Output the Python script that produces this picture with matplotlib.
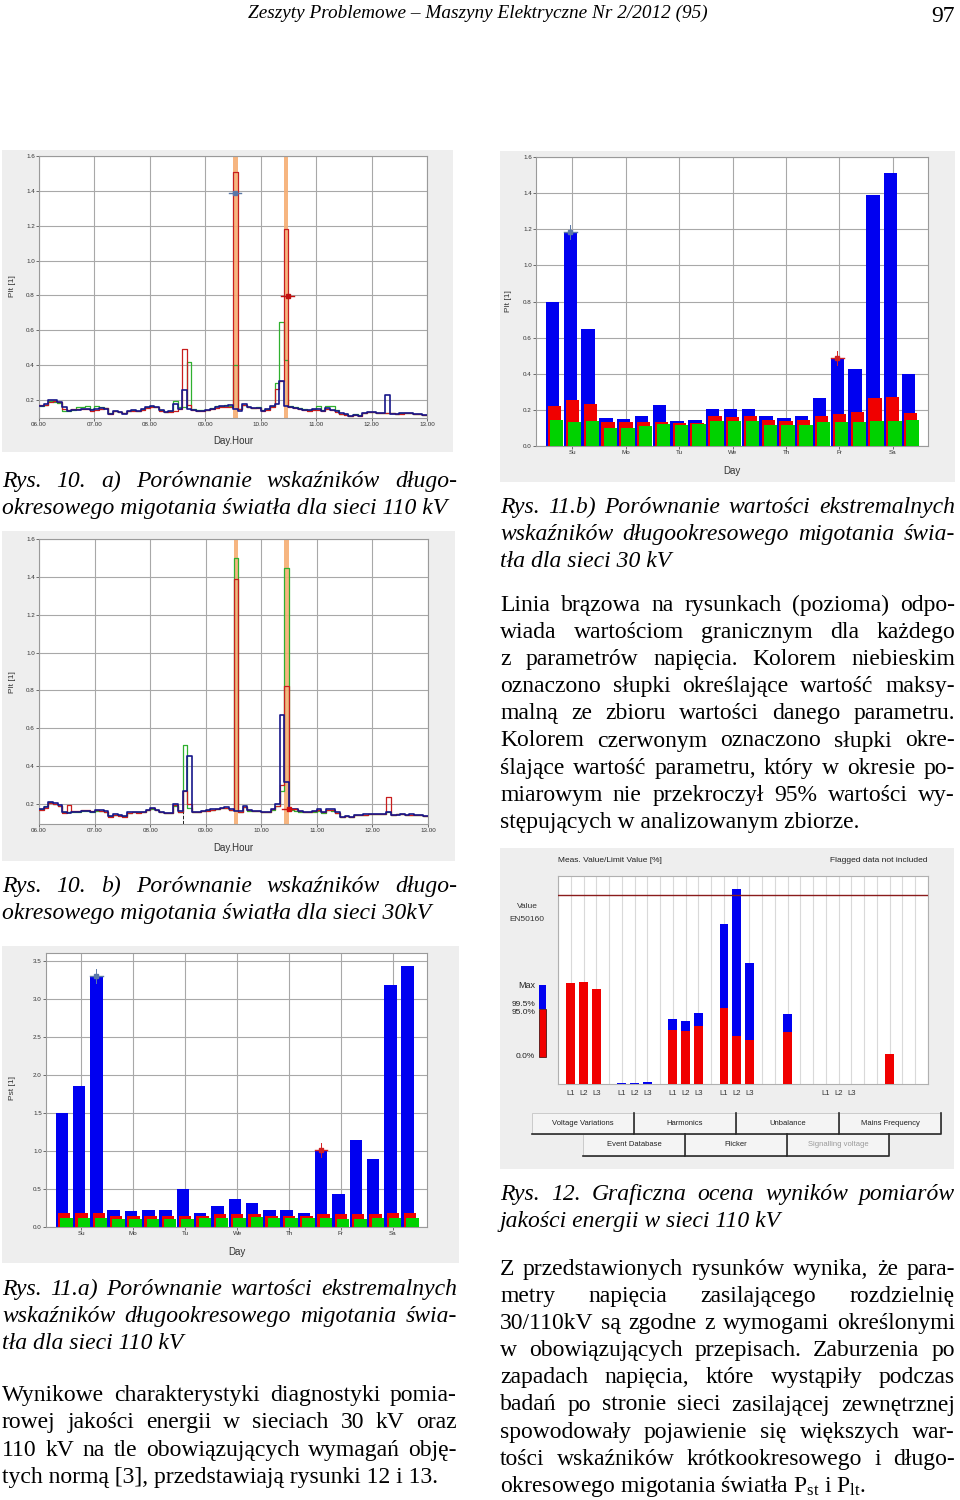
# -*- coding: utf-8 -*-
import numpy as np
import matplotlib
matplotlib.use('Agg')
import matplotlib.pyplot as plt
import matplotlib.transforms as mtrans
from matplotlib.patches import Rectangle
from matplotlib.lines import Line2D

plt.rcParams['mathtext.fontset'] = 'custom'
plt.rcParams['mathtext.rm'] = 'Liberation Serif'
plt.rcParams['mathtext.it'] = 'Liberation Serif:italic'

# ---------------- dane ----------------
hour_labels = ['06.00', '07.00', '08.00', '09.00', '10.00', '11.00', '12.00', '13.00']
day_labels = ['Su', 'Mo', 'Tu', 'We', 'Th', 'Fr', 'Sa']

# rys. 10a - Plt co 5 min od 06:00 (110 kV), wiersz = jedna godzina
plt10a_blue = [0.165, 0.175, 0.20, 0.20, 0.19, 0.16, 0.14, 0.145, 0.145, 0.15, 0.15, 0.145,
               0.15, 0.155, 0.15, 0.12, 0.14, 0.13, 0.12, 0.14, 0.145, 0.14, 0.15, 0.16,
               0.165, 0.16, 0.145, 0.13, 0.135, 0.175, 0.15, 0.255, 0.15, 0.145, 0.14, 0.14,
               0.145, 0.15, 0.16, 0.165, 0.165, 0.17, 0.15, 0.14, 0.18, 0.16, 0.155, 0.155,
               0.14, 0.15, 0.165, 0.18, 0.31, 0.165, 0.16, 0.155, 0.15, 0.145, 0.145, 0.15,
               0.15, 0.14, 0.155, 0.145, 0.135, 0.125, 0.12, 0.11, 0.115, 0.11, 0.125, 0.13,
               0.13, 0.125, 0.125, 0.23, 0.12, 0.12, 0.125, 0.125, 0.125, 0.12, 0.12, 0.115]
plt10a_red = [0.17, 0.17, 0.19, 0.195, 0.19, 0.15, 0.145, 0.15, 0.15, 0.15, 0.15, 0.14,
              0.145, 0.15, 0.155, 0.12, 0.135, 0.13, 0.125, 0.135, 0.14, 0.135, 0.145, 0.155,
              0.16, 0.16, 0.14, 0.13, 0.13, 0.135, 0.15, 0.49, 0.17, 0.145, 0.14, 0.14,
              0.145, 0.15, 0.155, 0.16, 0.16, 0.16, 1.51, 0.15, 0.17, 0.16, 0.155, 0.155,
              0.14, 0.145, 0.16, 0.265, 0.31, 1.18, 0.16, 0.155, 0.15, 0.145, 0.14, 0.145,
              0.145, 0.14, 0.15, 0.145, 0.13, 0.12, 0.115, 0.11, 0.115, 0.11, 0.125, 0.13,
              0.13, 0.125, 0.125, 0.125, 0.125, 0.12, 0.12, 0.125, 0.125, 0.12, 0.12, 0.115]
plt10a_green = [0.165, 0.17, 0.195, 0.19, 0.185, 0.14, 0.14, 0.145, 0.16, 0.16, 0.165, 0.15,
                0.165, 0.16, 0.155, 0.125, 0.14, 0.13, 0.125, 0.14, 0.145, 0.14, 0.15, 0.16,
                0.165, 0.16, 0.145, 0.13, 0.135, 0.195, 0.16, 0.16, 0.42, 0.15, 0.145, 0.145,
                0.145, 0.155, 0.165, 0.165, 0.17, 0.165, 0.40, 0.15, 0.17, 0.16, 0.155, 0.16,
                0.145, 0.15, 0.165, 0.30, 0.65, 0.43, 0.165, 0.16, 0.155, 0.15, 0.145, 0.15,
                0.165, 0.145, 0.165, 0.165, 0.145, 0.12, 0.12, 0.11, 0.12, 0.115, 0.125, 0.13,
                0.13, 0.125, 0.125, 0.125, 0.125, 0.12, 0.125, 0.125, 0.125, 0.12, 0.12, 0.115]

# rys. 10b - Plt co 5 min od 06:00 (30 kV)
plt10b_blue = [0.175, 0.185, 0.21, 0.205, 0.195, 0.155, 0.15, 0.16, 0.16, 0.165, 0.165, 0.16,
               0.17, 0.17, 0.165, 0.135, 0.145, 0.14, 0.135, 0.155, 0.16, 0.155, 0.16, 0.17,
               0.18, 0.17, 0.16, 0.15, 0.15, 0.20, 0.165, 0.267, 0.453, 0.16, 0.16, 0.165,
               0.17, 0.175, 0.175, 0.18, 0.185, 0.175, 0.165, 0.165, 0.19, 0.17, 0.165, 0.165,
               0.155, 0.16, 0.175, 0.20, 0.671, 0.318, 0.175, 0.175, 0.165, 0.16, 0.16, 0.165,
               0.175, 0.155, 0.175, 0.175, 0.155, 0.13, 0.135, 0.13, 0.14, 0.14, 0.145, 0.145,
               0.145, 0.145, 0.145, 0.155, 0.14, 0.14, 0.145, 0.14, 0.145, 0.14, 0.14, 0.135]
plt10b_red = [0.17, 0.18, 0.205, 0.20, 0.19, 0.15, 0.195, 0.165, 0.165, 0.17, 0.17, 0.165,
              0.17, 0.165, 0.16, 0.13, 0.14, 0.135, 0.13, 0.15, 0.155, 0.15, 0.16, 0.17,
              0.18, 0.17, 0.16, 0.15, 0.15, 0.195, 0.16, 0.267, 0.20, 0.16, 0.16, 0.165,
              0.165, 0.17, 0.175, 0.18, 0.18, 0.17, 1.39, 0.16, 0.185, 0.17, 0.165, 0.165,
              0.155, 0.16, 0.175, 0.19, 0.30, 0.824, 0.175, 0.175, 0.165, 0.16, 0.16, 0.165,
              0.17, 0.155, 0.17, 0.17, 0.15, 0.13, 0.135, 0.13, 0.14, 0.14, 0.14, 0.145,
              0.145, 0.145, 0.145, 0.237, 0.14, 0.145, 0.145, 0.14, 0.14, 0.14, 0.14, 0.135]
plt10b_green = [0.175, 0.19, 0.21, 0.20, 0.19, 0.155, 0.155, 0.16, 0.16, 0.165, 0.165, 0.16,
                0.165, 0.165, 0.16, 0.135, 0.14, 0.14, 0.135, 0.15, 0.155, 0.155, 0.16, 0.17,
                0.175, 0.17, 0.16, 0.15, 0.15, 0.19, 0.155, 0.511, 0.18, 0.16, 0.16, 0.165,
                0.17, 0.17, 0.175, 0.18, 0.18, 0.17, 1.498, 0.16, 0.185, 0.165, 0.165, 0.165,
                0.155, 0.16, 0.17, 0.19, 0.27, 1.445, 0.17, 0.165, 0.16, 0.155, 0.155, 0.16,
                0.165, 0.15, 0.17, 0.165, 0.15, 0.13, 0.135, 0.13, 0.14, 0.14, 0.14, 0.145,
                0.145, 0.145, 0.145, 0.155, 0.14, 0.145, 0.145, 0.14, 0.14, 0.14, 0.14, 0.135]

# rys. 11a - Pst, 3 słupki na dobę (110 kV)
pst11a_max = [1.5, 1.85, 3.3, 0.225, 0.21, 0.22, 0.225, 0.5, 0.19, 0.28, 0.365, 0.32,
              0.22, 0.22, 0.19, 1.01, 0.435, 1.14, 0.9, 3.18, 3.43]
pst11a_p99 = [0.185, 0.185, 0.19, 0.15, 0.15, 0.15, 0.14, 0.15, 0.15, 0.165, 0.165, 0.165,
              0.15, 0.15, 0.15, 0.165, 0.165, 0.165, 0.175, 0.185, 0.185]
pst11a_p95 = [0.115, 0.115, 0.115, 0.10, 0.10, 0.11, 0.11, 0.11, 0.115, 0.115, 0.115, 0.125,
              0.115, 0.115, 0.115, 0.115, 0.10, 0.10, 0.115, 0.115, 0.115]

# rys. 11b - Plt, 3 słupki na dobę (30 kV)
plt11b_max = [0.80, 1.184, 0.649, 0.157, 0.152, 0.166, 0.228, 0.139, 0.142, 0.203, 0.203, 0.203,
              0.165, 0.154, 0.165, 0.263, 0.487, 0.425, 1.389, 1.513, 0.398]
plt11b_p99 = [0.224, 0.255, 0.233, 0.131, 0.131, 0.135, 0.135, 0.128, 0.128, 0.166, 0.161, 0.166,
              0.142, 0.139, 0.142, 0.166, 0.178, 0.189, 0.263, 0.272, 0.181]
plt11b_p95 = [0.144, 0.135, 0.139, 0.102, 0.102, 0.113, 0.124, 0.117, 0.124, 0.139, 0.139, 0.139,
              0.117, 0.117, 0.117, 0.135, 0.131, 0.135, 0.139, 0.139, 0.144]

# rys. 12 - wartość zmierzona / wartość graniczna [%]
q_cols = [0, 1, 2, 4, 5, 6, 8, 9, 10, 12, 13, 14, 17, 25]
q_max = [53.6, 54.0, 50.2, 0.6, 0.6, 1.1, 34.3, 33.3, 37.3, 84.6, 103.2, 64.0, 36.8, 16.1]
q_p95 = [53.6, 54.0, 50.2, 0.0, 0.0, 0.0, 28.8, 28.1, 30.8, 40.3, 25.3, 23.5, 27.6, 16.1]
q_phase_cols = [0, 1, 2, 4, 5, 6, 8, 9, 10, 12, 13, 14, 20, 21, 22]
q_phase_labels = ['L1', 'L2', 'L3'] * 5
q_buttons_top = ['Voltage Variations', 'Harmonics', 'Unbalance', 'Mains Frequency']
q_buttons_bottom = ['Event Database', 'Flicker', 'Signalling voltage']

# ---------------- rysunek ----------------
W, H = 960, 1500
fig = plt.figure(figsize=(9.6, 15), dpi=100)
SANS = 'Liberation Sans'
SERIF = 'Liberation Serif'
BLUE, RED, GREEN = '#0000f0', '#f00000', '#00d200'
TXT = 17  # rozmiar tekstu artykułu


def box(x0, y0, x1, y1):
    # piksele (od góry) -> współrzędne figury
    return [x0 / W, 1 - y1 / H, (x1 - x0) / W, (y1 - y0) / H]


def ptext(x, y, s, **kw):
    return fig.text(x / W, 1 - y / H, s, **kw)


def panel(x0, y0, x1, y1):
    fig.add_artist(Rectangle((x0 / W, 1 - y1 / H), (x1 - x0) / W, (y1 - y0) / H,
                             transform=fig.transFigure, facecolor='#eeeeee',
                             edgecolor='none', zorder=0))


def style_axes(ax):
    for sp in ax.spines.values():
        sp.set_color('#9a9a9a')
        sp.set_linewidth(0.8)
    ax.tick_params(length=2, width=0.6, colors='#555555', labelsize=4.5, pad=1)
    for lab in ax.get_xticklabels() + ax.get_yticklabels():
        lab.set_family(SANS)
        lab.set_color('#333333')
    ax.grid(True, color='#a8a8a8', lw=0.8)
    ax.set_axisbelow(True)


def line_chart(rect, blue, red, green, bands, ymin, xlab_y, ylab_y):
    ax = fig.add_axes(box(*rect))
    edges = 6 + np.arange(len(blue) + 1) * 5 / 60.0
    for b in bands:
        ax.axvspan(b, b + 5 / 60.0, color='#f6ad72', alpha=0.9, lw=0, zorder=1)
    ax.step(edges, np.append(green, green[-1]), where='post', color='#2fb02f', lw=0.9, zorder=2)
    ax.step(edges, np.append(red, red[-1]), where='post', color='#c81e1e', lw=0.9, zorder=3)
    ax.step(edges, np.append(blue, blue[-1]), where='post', color='#16168a', lw=1.2, zorder=4)
    ax.set_xlim(6, 13)
    ax.set_ylim(ymin, 1.6)
    ax.set_xticks(range(6, 14))
    ax.set_xticklabels(hour_labels)
    ax.set_yticks(np.arange(0.2, 1.61, 0.2))
    ax.set_yticklabels(['%.1f' % v for v in np.arange(0.2, 1.61, 0.2)])
    ax.set_facecolor('white')
    style_axes(ax)
    ptext(12, ylab_y, 'Plt [1]', rotation=90, ha='center', va='center', fontsize=6,
          family=SANS, color='#333333')
    ptext((rect[0] + rect[2]) / 2, xlab_y, 'Day.Hour', ha='center', va='center', fontsize=7,
          family=SANS, color='#333333')
    return ax


def cross(ax, x, y, dx, dy, color, mk='s'):
    ax.plot([x - dx, x + dx], [y, y], color=color, lw=1.0, zorder=6)
    ax.plot([x, x], [y - dy, y + dy], color=color, lw=0.7, zorder=6)
    ax.plot([x], [y], marker=mk, ms=2.5, color=color, zorder=7)


def bar_chart(rect, vmax, v99, v95, ylim, ystep, ylab, ylab_x, ylab_y, xlab_y, off, wid, marks):
    ax = fig.add_axes(box(*rect))
    k = np.arange(len(vmax))
    ax.bar(k - off, vmax, width=wid, color=BLUE, zorder=2)
    ax.bar(k, v99, width=wid, color=RED, zorder=3)
    ax.bar(k + off, v95, width=wid, color=GREEN, zorder=4)
    ax.set_xlim(-1.05, 20.98)
    ax.set_ylim(0, ylim)
    ax.set_xticks(range(1, 21, 3))
    ax.set_xticklabels(day_labels)
    ticks = np.arange(0, ylim + 1e-6, ystep)
    ax.set_yticks(ticks)
    ax.set_yticklabels(['%.1f' % v for v in ticks])
    ax.set_facecolor('white')
    style_axes(ax)
    for i, col in marks:
        cross(ax, i - off, vmax[i], wid * 0.5, ylim * 0.025, col)
    ptext(ylab_x, ylab_y, ylab, rotation=90, ha='center', va='center', fontsize=6,
          family=SANS, color='#333333')
    ptext((rect[0] + rect[2]) / 2, xlab_y, 'Day', ha='center', va='center', fontsize=7,
          family=SANS, color='#333333')
    return ax


# --- rys. 10a
panel(2, 150, 453, 452)
ax = line_chart((39, 156, 427, 418), plt10a_blue, plt10a_red, plt10a_green,
                [9.5, 6 + 265 / 60.0], 0.097, 441, 286)
cross(ax, 9 + 32 / 60.0, 1.39, 0.11, 0.0, '#5a78a8')
cross(ax, 10 + 29 / 60.0, 0.795, 0.12, 0.0, '#c01010')

# --- rys. 10b
panel(2, 531, 455, 861)
ax = line_chart((39, 539, 428, 824), plt10b_blue, plt10b_red, plt10b_green,
                [9.5, 6 + 265 / 60.0], 0.094, 848, 682)
cross(ax, 10.5, 0.174, 0.12, 0.0, '#d01010')
ax.plot([8 + 35 / 60.0] * 2, [0.094, 0.16], color='#222222', lw=0.7, ls='--', zorder=6)

# --- rys. 11a
panel(2, 946, 459, 1263)
bar_chart((46, 953, 427, 1227), pst11a_max, pst11a_p99, pst11a_p95, 3.6, 0.5, 'Pst [1]',
          13, 1088, 1252, 0.135, 0.72, [(2, '#5a78a8'), (15, '#d02020')])

# --- rys. 11b
panel(500, 151, 955, 482)
bar_chart((536, 157, 928, 446), plt11b_max, plt11b_p99, plt11b_p95, 1.6, 0.2, 'Plt [1]',
          509, 301, 471, 0.12, 0.75, [(1, '#5a78a8'), (16, '#d02020')])

# --- rys. 12
panel(500, 848, 954, 1169)
ax = fig.add_axes(box(558, 876, 928, 1084))
ax.bar(q_cols, q_max, width=0.68, color=BLUE, zorder=2)
ax.bar(q_cols, q_p95, width=0.68, color=RED, zorder=3)
ax.axhline(100, color='#8a1c1c', lw=1.0, zorder=4)
ax.set_xlim(-1, 28)
ax.set_ylim(0, 110)
ax.set_xticks(range(-1, 29))
ax.xaxis.grid(True, color='#d9d9d9', lw=0.8)
ax.set_axisbelow(True)
ax.tick_params(length=0, labelbottom=False, labelleft=False)
for sp in ax.spines.values():
    sp.set_color('#b0b0b0')
    sp.set_linewidth(0.8)
trans = mtrans.blended_transform_factory(ax.transData, ax.transAxes)
for c, lab in zip(q_phase_cols, q_phase_labels):
    ax.text(c, -0.045, lab, transform=trans, ha='center', va='center', fontsize=5.5,
            family=SANS, color='#333333')
ptext(558, 861, 'Meas. Value/Limit Value [%]', ha='left', va='center', fontsize=6,
      family=SANS, color='#222222')
ptext(927, 861, 'Flagged data not included', ha='right', va='center', fontsize=6,
      family=SANS, color='#222222')
ptext(527, 907, 'Value', ha='center', va='center', fontsize=6, family=SANS, color='#333333')
ptext(527, 920, 'EN50160', ha='center', va='center', fontsize=6, family=SANS, color='#333333')
fig.add_artist(Rectangle((539 / W, 1 - 1009 / H), 7 / W, 24 / H, transform=fig.transFigure,
                         facecolor=BLUE, edgecolor='none'))
fig.add_artist(Rectangle((539 / W, 1 - 1057 / H), 7 / W, 48 / H, transform=fig.transFigure,
                         facecolor=RED, edgecolor='#300000', lw=0.5))
ptext(535, 986, 'Max', ha='right', va='center', fontsize=6.5, family=SANS, color='#222222')
ptext(535, 1004, '99.5%', ha='right', va='center', fontsize=6, family=SANS, color='#222222')
ptext(535, 1013, '95.0%', ha='right', va='center', fontsize=6, family=SANS, color='#222222')
ptext(535, 1056, '0.0%', ha='right', va='center', fontsize=6, family=SANS, color='#222222')


def button(x0, y0, x1, y1, label, color='#222222'):
    fig.add_artist(Rectangle((x0 / W, 1 - y1 / H), (x1 - x0) / W, (y1 - y0) / H,
                             transform=fig.transFigure, facecolor='#f4f4f4',
                             edgecolor='#c4c4c4', lw=0.6))
    fig.add_artist(Line2D([x0 / W, x1 / W, x1 / W], [1 - y1 / H, 1 - y1 / H, 1 - y0 / H],
                          transform=fig.transFigure, color='#2a2a2a', lw=1.2))
    ptext((x0 + x1) / 2, (y0 + y1) / 2, label, ha='center', va='center', fontsize=5.5,
          family=SANS, color=color)


for (x0, x1), lab in zip([(532, 634), (634, 736), (736, 839), (839, 941)], q_buttons_top):
    button(x0, 1113, x1, 1134, lab)
for (x0, x1), lab, col in zip([(583, 685), (685, 787), (787, 889)], q_buttons_bottom,
                              ['#222222', '#222222', '#9a9a9a']):
    button(x0, 1134, x1, 1156, lab, col)

# ---------------- tekst ----------------
renderer = fig.canvas.get_renderer()


def justify(lines, x0, x1, y0, dy, italic=False, size=TXT):
    st = 'italic' if italic else 'normal'
    for i, line in enumerate(lines):
        y = y0 + i * dy
        words = line.split()
        if i == len(lines) - 1 or len(words) == 1:
            ptext(x0, y, ' '.join(words), ha='left', va='baseline', fontsize=size,
                  family=SERIF, style=st, color='black')
            continue
        arts = [ptext(x0, y, w, ha='left', va='baseline', fontsize=size, family=SERIF,
                      style=st, color='black') for w in words]
        widths = [a.get_window_extent(renderer).width for a in arts]
        gap = max((x1 - x0 - sum(widths)) / (len(words) - 1), 2.0)
        x = x0
        for a, w in zip(arts, widths):
            a.set_position((x / W, 1 - y / H))
            x += w + gap


ptext(478, 18, 'Zeszyty Problemowe – Maszyny Elektryczne Nr 2/2012 (95)', ha='center',
      va='baseline', fontsize=13.9, family=SERIF, style='italic')
ptext(955, 22, '97', ha='right', va='baseline', fontsize=17, family=SERIF)

LX0, LX1, RX0, RX1 = 2, 457, 500, 955
justify(['Rys. 10. a) Porównanie wskaźników długo-',
         'okresowego migotania światła dla sieci 110 kV'], LX0, LX1, 487, 27, True)
justify(['Rys. 10. b) Porównanie wskaźników długo-',
         'okresowego migotania światła dla sieci 30kV'], LX0, LX1, 892, 27, True)
justify(['Rys. 11.a)  Porównanie wartości ekstremalnych',
         'wskaźników długookresowego migotania świa-',
         'tła dla sieci 110 kV'], LX0, LX1, 1295, 27, True)
justify(['Wynikowe charakterystyki diagnostyki pomia-',
         'rowej jakości energii w sieciach 30 kV oraz',
         '110 kV na tle obowiązujących wymagań obję-',
         'tych normą [3], przedstawiają  rysunki 12 i 13.'], LX0, LX1, 1401, 27.3)
justify(['Rys. 11.b)  Porównanie wartości ekstremalnych',
         'wskaźników długookresowego migotania świa-',
         'tła dla sieci 30 kV'], RX0, RX1, 513, 27, True)
justify(['Linia brązowa na rysunkach (pozioma) odpo-',
         'wiada wartościom granicznym dla każdego',
         'z parametrów napięcia. Kolorem niebieskim',
         'oznaczono słupki określające wartość maksy-',
         'malną ze zbioru wartości danego parametru.',
         'Kolorem czerwonym oznaczono słupki okre-',
         'ślające wartość parametru, który w okresie po-',
         'miarowym nie przekroczył 95% wartości wy-',
         'stępujących w analizowanym zbiorze.'], RX0, RX1, 611, 27.1)
justify(['Rys. 12. Graficzna ocena wyników pomiarów',
         'jakości energii w sieci 110 kV'], RX0, RX1, 1200, 27, True)
justify(['Z przedstawionych rysunków wynika, że para-',
         'metry napięcia zasilającego rozdzielnię',
         '30/110kV są zgodne z wymogami określonymi',
         'w obowiązujących przepisach. Zaburzenia po',
         'zapadach napięcia, które wystąpiły podczas',
         'badań po stronie sieci zasilającej zewnętrznej',
         'spowodowały pojawienie się większych war-',
         'tości wskaźników krótkookresowego i długo-',
         r'okresowego migotania światła $\mathrm{P_{st}}$ i  $\mathrm{P_{lt}}$.'],
        RX0, RX1, 1275, 27.1)

fig.savefig('out.png', dpi=100, facecolor='white')
